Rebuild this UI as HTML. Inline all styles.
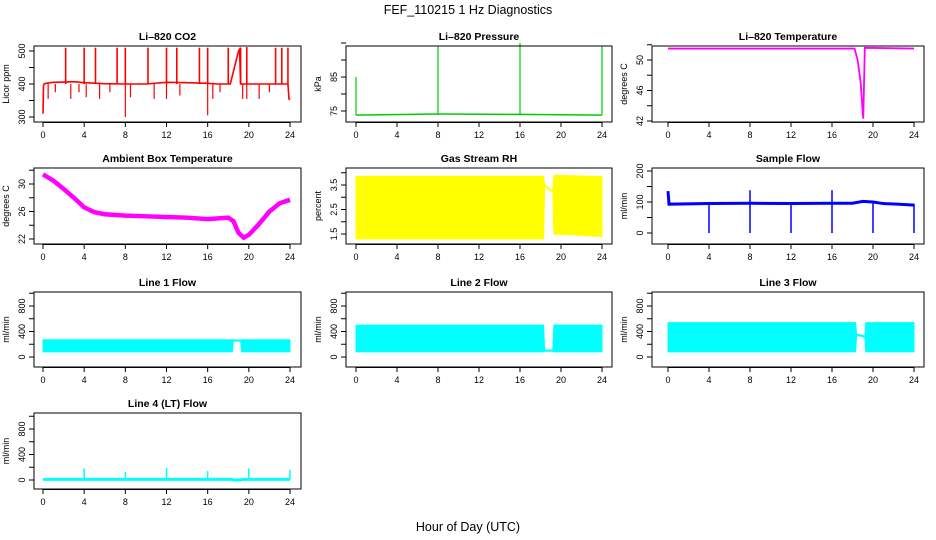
<!DOCTYPE html>
<html><head><meta charset="utf-8"><style>
html,body{margin:0;padding:0;background:#fff}
svg{display:block;font-family:"Liberation Sans",sans-serif}
</style></head><body>
<svg id="c" width="936" height="540" viewBox="0 0 936 540">
<text x="468" y="14" text-anchor="middle" font-size="12.5">FEF_110215  1 Hz Diagnostics</text>
<text x="468" y="531" text-anchor="middle" font-size="12.5">Hour of Day (UTC)</text>
</svg>
<script>
// ---- data arrays ----
const hourTicks = [0,4,8,12,16,20,24];
// CO2
const co2T = [0,0.05,0.1,0.3,1,2,3,4,6,8,10,12,14,16,17,18.2,18.6,19,19.1,19.2,20,22,23.8,23.9,24];
const co2V = [310,395,400,402,405,406,407,404,401,400,400,405,404,402,400,400,450,500,505,400,400,400,400,355,352];
const co2UpT = [2.2,4,5.1,7.2,8,10.2,12,13,15.2,16,18,19.2,19.8,22.6,23.2,23.8];
const co2UpV = [510,510,510,510,510,510,510,510,510,510,510,510,512,510,510,510];
const co2DnT = [0.5,1.2,2.7,3.5,4.2,5.5,6.5,8,8.5,10.8,12,13.3,16,16.5,17.2,19.4,19.8,21,22];
const co2DnV = [355,375,355,375,360,355,375,300,360,355,355,365,305,355,375,355,355,355,375];
// Pressure
const presT = [0,8,16,24];
const presV = [73.8,74.1,74,73.8];
const presSpikeT = [0,8,16,24];
const presSpikeV = [85,94,95,94];
// Li-820 temperature
const tempT = [0,18.2,18.5,18.8,19,19.05,19.2,24];
const tempV = [51.5,51.5,50,47,43,42.3,51.6,51.5];
// Ambient box temperature
const ambT = [0,1,2,3,4,5,6,8,10,12,14,16,18,18.5,19,19.5,20,21,22,23,24];
const ambV = [31.4,30.5,29.3,28,26.6,25.9,25.6,25.4,25.3,25.2,25.1,24.9,25.1,24.6,22.9,22.2,22.6,24.2,26,27.2,27.7];
// Gas stream RH band
const rhT  = [0,18.3,18.4,19.2,19.3,24];
const rhHi = [3.85,3.85,3.5,3.25,3.9,3.85];
const rhLo = [1.3,1.3,3.45,3.2,1.5,1.4];
// Sample flow
const sfT = [0,0.1,4,8,12,16,18,19,20,21,23,24];
const sfV = [135,93,95,96,95,96,96,102,100,95,92,90];
const sfSpikeT = [4,8,12,16,20,24,8,16];
const sfSpikeV = [0,0,0,0,0,0,138,138];
// Line flows (bands)
const l1T = [0,18.4,18.5,19.2,19.3,24];
const l1Hi = [270,270,270,265,270,270];
const l1Lo = [80,80,250,250,80,80];
const l2T = [0,18.3,18.4,19.2,19.3,24];
const l2Hi = [500,500,110,110,500,500];
const l2Lo = [80,80,90,90,80,80];
const l3T = [0,18.3,18.4,19.2,19.3,24];
const l3Hi = [540,540,360,330,540,540];
const l3Lo = [80,80,340,310,80,80];
// Line 4
const l4T = [0,18.4,18.5,19.2,19.3,24];
const l4V = [10,10,0,0,10,10];
const l4SpikeT = [4,8,12,16,20,24];
const l4SpikeV = [180,130,190,140,180,160];

const svg=document.getElementById('c');
const NS='http://www.w3.org/2000/svg';
function mk(tag,attrs,parent){const e=document.createElementNS(NS,tag);for(const k in attrs)e.setAttribute(k,attrs[k]);(parent||svg).appendChild(e);return e;}

const cols=[{l:34,r:301,x0:43,x24:290},{l:346,r:612,x0:356,x24:602},{l:652,r:924,x0:668,x24:914}];
const rows=[{t:46,b:122},{t:168,b:244},{t:292,b:367},{t:413,b:489}];

function panel(name,title,ylab,ci,ri,yA,pA,yB,pB,ticks,labels,draw){
  const c=cols[ci],r=rows[ri];
  const g=mk('g',{});
  
  
  const xs=t=>c.x0+(c.x24-c.x0)*t/24;
  const ys=v=>pA+(pB-pA)*(v-yA)/(yB-yA);
  draw(g,xs,ys);
  const box=mk('rect',{x:c.l,y:r.t,width:c.r-c.l,height:r.b-r.t,fill:'none',stroke:'#000','stroke-width':1},g);
  
  
  const tt=mk('text',{x:(c.l+c.r)/2,y:r.t-6,'text-anchor':'middle','font-size':10.5,'font-weight':'bold'},g);
  tt.textContent=title;
  
  
  hourTicks.forEach(h=>{
    const x=xs(h);
    mk('line',{x1:x,x2:x,y1:r.b,y2:r.b+5,stroke:'#000'},g);
    const tx=mk('text',{x:x,y:r.b+16,'text-anchor':'middle','font-size':9},g);
    tx.textContent=h;
    
    
  });
  mk('line',{x1:xs(0),x2:xs(24),y1:r.b+0.5,y2:r.b+0.5,stroke:'#000'},g);
  ticks.forEach(v=>{
    const y=ys(v);
    mk('line',{x1:c.l-5,x2:c.l,y1:y,y2:y,stroke:'#000'},g);
  });
  labels.forEach(v=>{
    const y=ys(v);
    const ty=mk('text',{x:c.l-9,y:y,'text-anchor':'middle','font-size':9,transform:`rotate(-90 ${c.l-9} ${y})`},g);
    ty.textContent=v;
    
    
  });
  const yl=mk('text',{x:c.l-25,y:(r.t+r.b)/2,'text-anchor':'middle','font-size':9,transform:`rotate(-90 ${c.l-25} ${(r.t+r.b)/2})`},g);
  yl.textContent=ylab;
  
  
}
function line(g,xs,ys,T,V,col,w){
  const p=mk('polyline',{points:T.map((t,i)=>xs(t)+','+ys(V[i])).join(' '),fill:'none',stroke:col,'stroke-width':w},g);
  
  
}
function spikes(g,xs,ys,T,V,base,col,w){
  T.forEach((t,i)=>{
    const s=mk('line',{x1:xs(t),x2:xs(t),y1:ys(base),y2:ys(V[i]),stroke:col,'stroke-width':w},g);
    
    
  });
}
function band(g,xs,ys,T,Hi,Lo,col){
  const pts=T.map((t,i)=>xs(t)+','+ys(Hi[i])).concat(T.map((t,i)=>xs(t)+','+ys(Lo[i])).reverse());
  const p=mk('polygon',{points:pts.join(' '),fill:col,stroke:col,'stroke-width':1},g);
  
  
}

panel('co2-panel','Li\u2013820 CO2','Licor ppm',0,0,300,117,500,51,[300,350,400,450,500],[300,400,500],(g,xs,ys)=>{
  spikes(g,xs,ys,co2UpT,co2UpV,400,'#f00',1.6);
  spikes(g,xs,ys,co2DnT,co2DnV,400,'#f00',1.2);
  line(g,xs,ys,co2T,co2V,'#f00',1.6);
});
panel('pressure-panel','Li\u2013820 Pressure','kPa',1,0,75,111,85,77,[75,80,85,90,95],[75,85],(g,xs,ys)=>{
  line(g,xs,ys,presT,presV,'#0c0',1.5);
  spikes(g,xs,ys,presSpikeT,presSpikeV,73.8,'#0c0',1.2);
});
panel('li820-temp-panel','Li\u2013820 Temperature','degrees C',2,0,42,121,50,60,[42,44,46,48,50,52],[42,46,50],(g,xs,ys)=>{
  line(g,xs,ys,tempT,tempV,'#f0f',1.8);
});
panel('ambient-temp-panel','Ambient Box Temperature','degrees C',0,1,22,239,30,184,[22,24,26,28,30,32],[22,26,30],(g,xs,ys)=>{
  line(g,xs,ys,ambT,ambV,'#f0f',4.5);
});
panel('rh-panel','Gas Stream RH','percent',1,1,1.5,234,3.5,185,[1.5,2,2.5,3,3.5,4],[1.5,2.5,3.5],(g,xs,ys)=>{
  band(g,xs,ys,rhT,rhHi,rhLo,'#ff0');
});
panel('sample-flow-panel','Sample Flow','ml/min',2,1,0,233,200,171,[0,50,100,150,200],[0,100,200],(g,xs,ys)=>{
  spikes(g,xs,ys,sfSpikeT,sfSpikeV,95,'#00f',1.5);
  line(g,xs,ys,sfT,sfV,'#00f',3);
});
const flowTicks=[0,200,400,600,800,1000];
panel('line1-flow-panel','Line 1 Flow','ml/min',0,2,0,357,800,306,flowTicks,[0,400,800],(g,xs,ys)=>{
  band(g,xs,ys,l1T,l1Hi,l1Lo,'#0ff');
});
panel('line2-flow-panel','Line 2 Flow','ml/min',1,2,0,357,800,306,flowTicks,[0,400,800],(g,xs,ys)=>{
  band(g,xs,ys,l2T,l2Hi,l2Lo,'#0ff');
});
panel('line3-flow-panel','Line 3 Flow','ml/min',2,2,0,357,800,306,flowTicks,[0,400,800],(g,xs,ys)=>{
  band(g,xs,ys,l3T,l3Hi,l3Lo,'#0ff');
});
panel('line4-flow-panel','Line 4 (LT) Flow','ml/min',0,3,0,480,800,429,flowTicks,[0,400,800],(g,xs,ys)=>{
  line(g,xs,ys,l4T,l4V,'#0ff',3);
  spikes(g,xs,ys,l4SpikeT,l4SpikeV,10,'#0ff',1.5);
});
</script>
</body></html>
